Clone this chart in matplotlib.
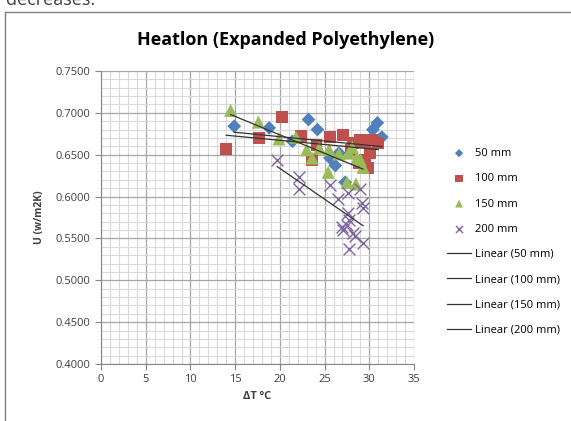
import numpy as np
import matplotlib.pyplot as plt
from matplotlib.ticker import MultipleLocator, FormatStrFormatter

# data (delta T in degC, U in W/m2K)
dt_50 = [14.9, 18.8, 21.4, 23.2, 24.2, 25.6, 26.2, 26.6, 27.3, 30.4, 30.9, 31.4]
u_50 = [0.684, 0.682, 0.666, 0.692, 0.680, 0.646, 0.637, 0.652, 0.617, 0.680, 0.688, 0.671]

dt_100 = [14.0, 17.7, 20.2, 22.4, 23.6, 24.1, 25.6, 27.1, 27.9, 28.2, 28.8, 29.0,
          29.5, 29.5, 29.9, 30.1, 30.3, 31.0]
u_100 = [0.657, 0.670, 0.695, 0.672, 0.644, 0.662, 0.671, 0.674, 0.656, 0.664, 0.640, 0.668,
         0.665, 0.644, 0.634, 0.652, 0.668, 0.664]

dt_150 = [14.5, 17.6, 19.9, 21.8, 23.0, 23.6, 24.4, 25.4, 25.5, 26.6, 27.5, 27.7,
          28.1, 28.5, 28.6, 29.0, 29.3]
u_150 = [0.703, 0.689, 0.669, 0.671, 0.656, 0.646, 0.658, 0.629, 0.656, 0.651, 0.617, 0.652,
         0.659, 0.615, 0.646, 0.644, 0.635]

dt_200 = [19.7, 22.1, 22.1, 25.6, 26.5, 26.9, 27.1, 27.5, 27.6, 27.6, 27.7, 27.7,
          28.2, 28.4, 29.0, 29.2, 29.3, 29.3]
u_200 = [0.644, 0.623, 0.609, 0.614, 0.597, 0.564, 0.560, 0.566, 0.604, 0.580, 0.572, 0.537,
         0.556, 0.553, 0.609, 0.592, 0.586, 0.545]

series = [
    ('50 mm', dt_50, u_50, 'D', '#4F81BD', 7),
    ('100 mm', dt_100, u_100, 's', '#C0504D', 8.5),
    ('150 mm', dt_150, u_150, '^', '#9BBB59', 9.5),
    ('200 mm', dt_200, u_200, 'x', '#8064A2', 8.5),
]

plt.rcParams['font.family'] = ['Open Sans', 'DejaVu Sans']

fig = plt.figure(figsize=(5.71, 4.21), dpi=100)
ax = fig.add_axes([0.1769, 0.1354, 0.5482, 0.6960])

handles = []
labels = []
for name, x, y, m, c, s in series:
    if m == 'x':
        h = ax.scatter(x, y, marker=m, s=s**2, color=c, linewidths=1.0, zorder=3)
    else:
        h = ax.scatter(x, y, marker=m, s=s**2, color=c, edgecolors='none', zorder=3)
    handles.append(h)
    labels.append(name)

fit_handles = []
for name, x, y, m, c, s in series:
    k, b = np.polyfit(x, y, 1)
    xs = np.array([min(x), max(x)])
    line, = ax.plot(xs, k * xs + b, color='#333333', lw=0.9, zorder=4)
    fit_handles.append(line)
    labels.append('Linear (%s)' % name)

ax.set_xlim(0, 35)
ax.set_ylim(0.4, 0.75)
ax.xaxis.set_major_locator(MultipleLocator(5))
ax.xaxis.set_minor_locator(MultipleLocator(1))
ax.yaxis.set_major_locator(MultipleLocator(0.05))
ax.yaxis.set_minor_locator(MultipleLocator(0.01))
ax.yaxis.set_major_formatter(FormatStrFormatter('%.4f'))
ax.grid(which='minor', color='#d9d9d9', lw=0.8)
ax.grid(which='major', color='#a6a6a6', lw=0.9)
ax.set_axisbelow(True)
for sp in ['top', 'right']:
    ax.spines[sp].set_visible(False)
for sp in ['left', 'bottom']:
    ax.spines[sp].set_color('#868686')
ax.tick_params(which='major', direction='out', length=4, color='#868686',
               labelsize=8, labelcolor='#404040')
ax.tick_params(which='minor', length=0)

ax.set_xlabel('ΔT ºC', fontsize=8, fontweight='bold', color='#404040')
ax.set_ylabel('U (w/m2K)', fontsize=7.5, fontweight='bold', color='#404040', labelpad=8)
fig.text(0.50, 0.905, 'Heatlon (Expanded Polyethylene)', ha='center', va='center',
         fontsize=13, fontweight='bold', color='black')

fig.legend(handles + fit_handles, labels, loc='upper left',
           bbox_to_anchor=(0.765, 0.672), frameon=False, fontsize=8,
           labelspacing=1.28, handlelength=2.2, handletextpad=0.3, scatterpoints=1,
           markerscale=0.6)

# chart border and the cut-off text above it
fig.add_artist(plt.Line2D([0.009, 0.009], [0, 0.972], color='#7f7f7f', lw=1))
fig.add_artist(plt.Line2D([0.009, 1.0], [0.972, 0.972], color='#7f7f7f', lw=1))
fig.text(0.01, 1.0, 'decreases.', ha='left', va='center', fontsize=13, color='#404040')

fig.savefig('out.png', dpi=100)
